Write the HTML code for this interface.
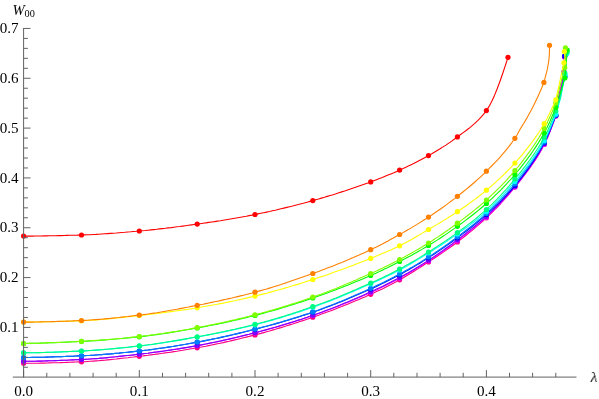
<!DOCTYPE html>
<html><head><meta charset="utf-8"><style>
html,body{margin:0;padding:0;background:#fff;}
svg{display:block;}
text{font-family:"Liberation Serif",serif;font-size:15.1px;fill:#000;}
</style></head><body>
<svg width="599" height="399" viewBox="0 0 599 399">
<rect width="599" height="399" fill="#fff"/>
<g stroke-linejoin="round" stroke-linecap="butt">
<polyline points="23.6,363.3 26.5,363.3 29.4,363.3 32.3,363.3 35.2,363.2 38.1,363.2 41.0,363.1 43.9,363.1 46.8,363.0 49.7,362.9 52.6,362.8 55.5,362.8 58.4,362.7 61.2,362.6 64.1,362.5 67.0,362.4 69.9,362.3 72.8,362.1 75.7,362.0 78.6,361.9 81.5,361.8 84.4,361.7 87.3,361.5 90.2,361.3 93.1,361.1 96.0,360.9 98.8,360.7 101.7,360.4 104.6,360.2 107.5,359.9 110.4,359.6 113.3,359.3 116.2,359.0 119.1,358.6 122.0,358.3 124.9,358.0 127.8,357.7 130.7,357.3 133.5,357.0 136.4,356.6 139.3,356.3 142.2,356.0 145.1,355.6 148.0,355.3 150.9,354.9 153.8,354.5 156.7,354.1 159.6,353.7 162.5,353.3 165.4,352.9 168.2,352.5 171.1,352.1 174.0,351.6 176.9,351.2 179.8,350.7 182.7,350.3 185.6,349.8 188.5,349.3 191.4,348.8 194.3,348.3 197.2,347.8 200.1,347.3 203.0,346.7 205.8,346.2 208.7,345.6 211.6,345.0 214.5,344.4 217.4,343.8 220.3,343.2 223.2,342.6 226.1,341.9 229.0,341.3 231.9,340.6 234.8,339.9 237.7,339.2 240.6,338.5 243.4,337.8 246.3,337.1 249.2,336.4 252.1,335.6 255.0,334.9 257.9,334.1 260.8,333.4 263.7,332.6 266.6,331.8 269.5,331.0 272.4,330.1 275.3,329.3 278.1,328.4 281.0,327.6 283.9,326.7 286.8,325.8 289.7,324.9 292.6,324.0 295.5,323.0 298.4,322.1 301.3,321.1 304.2,320.2 307.1,319.2 310.0,318.2 312.8,317.2 315.7,316.2 318.6,315.2 321.5,314.1 324.4,313.1 327.3,312.0 330.2,311.0 333.1,309.9 336.0,308.8 338.9,307.6 341.8,306.5 344.7,305.3 347.6,304.2 350.4,303.0 353.3,301.8 356.2,300.6 359.1,299.4 362.0,298.1 364.9,296.9 367.8,295.6 370.7,294.3 373.6,293.0 376.5,291.6 379.4,290.3 382.3,288.9 385.1,287.4 388.0,286.0 390.9,284.5 393.8,282.9 396.7,281.4 399.6,279.8 402.5,278.2 405.4,276.5 408.3,274.8 411.2,273.0 414.1,271.2 417.0,269.4 419.9,267.6 422.7,265.7 425.6,263.8 428.5,261.9 431.4,260.1 434.3,258.2 437.2,256.2 440.1,254.3 443.0,252.4 445.9,250.4 448.8,248.3 451.7,246.3 454.6,244.2 457.4,242.0 460.3,239.8 463.2,237.6 466.1,235.3 469.0,232.9 471.9,230.6 474.8,228.1 477.7,225.7 480.6,223.1 483.5,220.5 486.4,217.8 489.2,215.1 492.1,212.3 494.9,209.4 497.8,206.5 500.7,203.5 503.5,200.3 506.4,197.2 509.2,193.9 512.1,190.5 514.9,187.0 517.9,183.4 520.8,179.7 523.7,176.0 526.6,172.2 529.6,168.2 532.5,164.0 535.4,159.6 538.4,154.9 541.3,149.9 544.2,144.5 547.1,138.5 550.0,131.5 552.9,123.9 555.8,116.0 558.5,98.0 562.0,82.0 564.2,72.4 564.5,56.7" fill="none" stroke="#ff0080" stroke-width="1.1"/>
<g fill="#ff0080"><circle cx="23.6" cy="363.3" r="2.6"/><circle cx="81.5" cy="361.8" r="2.6"/><circle cx="139.3" cy="356.3" r="2.6"/><circle cx="197.2" cy="347.8" r="2.6"/><circle cx="255.0" cy="334.9" r="2.6"/><circle cx="312.8" cy="317.2" r="2.6"/><circle cx="370.7" cy="294.3" r="2.6"/><circle cx="399.6" cy="279.8" r="2.6"/><circle cx="428.5" cy="261.9" r="2.6"/><circle cx="457.4" cy="242.0" r="2.6"/><circle cx="486.4" cy="217.8" r="2.6"/><circle cx="514.9" cy="187.0" r="2.6"/><circle cx="544.2" cy="144.5" r="2.6"/><circle cx="555.8" cy="116.0" r="2.6"/><circle cx="564.2" cy="72.4" r="2.6"/><circle cx="564.5" cy="56.7" r="2.6"/></g>
<polyline points="23.6,361.3 26.5,361.3 29.4,361.3 32.3,361.2 35.2,361.2 38.1,361.1 41.0,361.1 43.9,361.0 46.8,360.9 49.7,360.8 52.6,360.7 55.5,360.6 58.4,360.5 61.2,360.4 64.1,360.3 67.0,360.2 69.9,360.0 72.8,359.9 75.7,359.8 78.6,359.6 81.5,359.5 84.4,359.4 87.3,359.2 90.2,359.0 93.1,358.8 96.0,358.6 98.8,358.4 101.7,358.1 104.6,357.9 107.5,357.6 110.4,357.3 113.3,357.0 116.2,356.7 119.1,356.4 122.0,356.1 124.9,355.8 127.8,355.5 130.7,355.2 133.5,354.9 136.4,354.5 139.3,354.2 142.2,353.9 145.1,353.5 148.0,353.2 150.9,352.8 153.8,352.4 156.7,352.0 159.6,351.6 162.5,351.2 165.4,350.8 168.2,350.4 171.1,350.0 174.0,349.5 176.9,349.1 179.8,348.6 182.7,348.1 185.6,347.6 188.5,347.2 191.4,346.7 194.3,346.2 197.2,345.6 200.1,345.1 203.0,344.6 205.8,344.0 208.7,343.5 211.6,342.9 214.5,342.3 217.4,341.7 220.3,341.1 223.2,340.4 226.1,339.8 229.0,339.1 231.9,338.5 234.8,337.8 237.7,337.1 240.6,336.4 243.4,335.7 246.3,335.0 249.2,334.3 252.1,333.5 255.0,332.8 257.9,332.1 260.8,331.3 263.7,330.5 266.6,329.7 269.5,328.9 272.4,328.1 275.3,327.3 278.1,326.5 281.0,325.6 283.9,324.8 286.8,323.9 289.7,323.0 292.6,322.1 295.5,321.2 298.4,320.3 301.3,319.4 304.2,318.4 307.1,317.5 310.0,316.5 312.8,315.5 315.7,314.5 318.6,313.5 321.5,312.5 324.4,311.4 327.3,310.3 330.2,309.3 333.1,308.2 336.0,307.0 338.9,305.9 341.8,304.8 344.7,303.6 347.6,302.4 350.4,301.2 353.3,300.0 356.2,298.8 359.1,297.6 362.0,296.3 364.9,295.1 367.8,293.8 370.7,292.5 373.6,291.2 376.5,289.9 379.4,288.5 382.3,287.1 385.1,285.7 388.0,284.2 390.9,282.8 393.8,281.3 396.7,279.7 399.6,278.2 402.5,276.6 405.4,275.0 408.3,273.4 411.2,271.7 414.1,270.0 417.0,268.2 419.9,266.5 422.7,264.7 425.6,262.8 428.5,261.0 431.4,259.1 434.3,257.2 437.2,255.3 440.1,253.3 443.0,251.3 445.9,249.2 448.8,247.1 451.7,245.0 454.6,242.9 457.4,240.8 460.3,238.6 463.2,236.4 466.1,234.2 469.0,231.9 471.9,229.6 474.8,227.3 477.7,224.9 480.6,222.4 483.5,219.9 486.4,217.3 489.2,214.6 492.1,211.9 494.9,209.1 497.8,206.2 500.7,203.2 503.5,200.2 506.4,197.0 509.2,193.8 512.1,190.4 514.9,187.0 517.9,183.4 520.8,179.8 523.7,176.0 526.6,172.2 529.6,168.2 532.5,164.0 535.4,159.6 538.4,154.9 541.3,149.9 544.2,144.5 547.1,138.5 550.0,131.5 552.9,123.9 555.8,116.0 558.5,98.0 562.0,82.0 564.2,72.4 564.5,56.7" fill="none" stroke="#ff00ff" stroke-width="1.1"/>
<g fill="#ff00ff"><circle cx="23.6" cy="361.3" r="2.6"/><circle cx="81.5" cy="359.5" r="2.6"/><circle cx="139.3" cy="354.2" r="2.6"/><circle cx="197.2" cy="345.6" r="2.6"/><circle cx="255.0" cy="332.8" r="2.6"/><circle cx="312.8" cy="315.5" r="2.6"/><circle cx="370.7" cy="292.5" r="2.6"/><circle cx="399.6" cy="278.2" r="2.6"/><circle cx="428.5" cy="261.0" r="2.6"/><circle cx="457.4" cy="240.8" r="2.6"/><circle cx="486.4" cy="217.3" r="2.6"/><circle cx="514.9" cy="187.0" r="2.6"/><circle cx="544.2" cy="144.5" r="2.6"/><circle cx="555.8" cy="116.0" r="2.6"/><circle cx="564.2" cy="72.4" r="2.6"/><circle cx="564.5" cy="56.7" r="2.6"/></g>
<polyline points="23.6,361.3 26.5,361.3 29.4,361.3 32.3,361.2 35.2,361.2 38.1,361.1 41.0,361.1 43.9,361.0 46.8,360.9 49.7,360.8 52.6,360.7 55.5,360.6 58.4,360.5 61.2,360.4 64.1,360.3 67.0,360.2 69.9,360.0 72.8,359.9 75.7,359.8 78.6,359.6 81.5,359.5 84.4,359.4 87.3,359.2 90.2,359.0 93.1,358.8 96.0,358.6 98.8,358.4 101.7,358.1 104.6,357.9 107.5,357.6 110.4,357.3 113.3,357.0 116.2,356.8 119.1,356.4 122.0,356.1 124.9,355.8 127.8,355.5 130.7,355.2 133.5,354.9 136.4,354.5 139.3,354.2 142.2,353.9 145.1,353.5 148.0,353.2 150.9,352.8 153.8,352.4 156.7,352.0 159.6,351.6 162.5,351.2 165.4,350.8 168.2,350.4 171.1,349.9 174.0,349.5 176.9,349.0 179.8,348.6 182.7,348.1 185.6,347.6 188.5,347.1 191.4,346.6 194.3,346.1 197.2,345.6 200.1,345.1 203.0,344.5 205.8,344.0 208.7,343.4 211.6,342.8 214.5,342.2 217.4,341.6 220.3,341.0 223.2,340.4 226.1,339.7 229.0,339.1 231.9,338.4 234.8,337.7 237.7,337.0 240.6,336.3 243.4,335.6 246.3,334.9 249.2,334.2 252.1,333.4 255.0,332.7 257.9,332.0 260.8,331.2 263.7,330.4 266.6,329.6 269.5,328.8 272.4,328.0 275.3,327.2 278.1,326.4 281.0,325.5 283.9,324.6 286.8,323.8 289.7,322.9 292.6,322.0 295.5,321.1 298.4,320.1 301.3,319.2 304.2,318.2 307.1,317.3 310.0,316.3 312.8,315.3 315.7,314.3 318.6,313.3 321.5,312.2 324.4,311.1 327.3,310.0 330.2,308.9 333.1,307.8 336.0,306.7 338.9,305.5 341.8,304.3 344.7,303.1 347.6,301.9 350.4,300.7 353.3,299.5 356.2,298.2 359.1,296.9 362.0,295.7 364.9,294.4 367.8,293.1 370.7,291.8 373.6,290.5 376.5,289.1 379.4,287.8 382.3,286.4 385.1,285.0 388.0,283.5 390.9,282.1 393.8,280.6 396.7,279.0 399.6,277.5 402.5,275.9 405.4,274.3 408.3,272.7 411.2,271.0 414.1,269.3 417.0,267.5 419.9,265.7 422.7,263.9 425.6,262.1 428.5,260.2 431.4,258.4 434.3,256.4 437.2,254.4 440.1,252.4 443.0,250.4 445.9,248.3 448.8,246.2 451.7,244.1 454.6,241.9 457.4,239.8 460.3,237.6 463.2,235.4 466.1,233.1 469.0,230.9 471.9,228.6 474.8,226.3 477.7,223.9 480.6,221.4 483.5,218.9 486.4,216.3 489.2,213.7 492.1,210.9 494.9,208.2 497.8,205.3 500.7,202.4 503.5,199.3 506.4,196.2 509.2,193.0 512.1,189.7 514.9,186.2 517.9,182.7 520.8,179.0 523.7,175.2 526.6,171.4 529.6,167.3 532.5,163.1 535.4,158.6 538.4,153.9 541.3,148.9 544.2,143.5 547.1,137.5 550.0,130.7 552.9,123.2 555.8,115.5 559.4,98.0 562.8,82.0 563.7,72.0 564.7,56.3" fill="none" stroke="#8000ff" stroke-width="1.1"/>
<g fill="#8000ff"><circle cx="23.6" cy="361.3" r="2.6"/><circle cx="81.5" cy="359.5" r="2.6"/><circle cx="139.3" cy="354.2" r="2.6"/><circle cx="197.2" cy="345.6" r="2.6"/><circle cx="255.0" cy="332.7" r="2.6"/><circle cx="312.8" cy="315.3" r="2.6"/><circle cx="370.7" cy="291.8" r="2.6"/><circle cx="399.6" cy="277.5" r="2.6"/><circle cx="428.5" cy="260.2" r="2.6"/><circle cx="457.4" cy="239.8" r="2.6"/><circle cx="486.4" cy="216.3" r="2.6"/><circle cx="514.9" cy="186.2" r="2.6"/><circle cx="544.2" cy="143.5" r="2.6"/><circle cx="555.8" cy="115.5" r="2.6"/><circle cx="563.7" cy="72.0" r="2.6"/><circle cx="564.7" cy="56.3" r="2.6"/></g>
<polyline points="23.6,357.5 26.5,357.5 29.4,357.5 32.3,357.4 35.2,357.4 38.1,357.3 41.0,357.3 43.9,357.2 46.8,357.1 49.7,357.0 52.6,356.9 55.5,356.8 58.4,356.7 61.2,356.6 64.1,356.5 67.0,356.4 69.9,356.3 72.8,356.2 75.7,356.0 78.6,355.9 81.5,355.8 84.4,355.7 87.3,355.5 90.2,355.4 93.1,355.2 96.0,355.0 98.8,354.8 101.7,354.6 104.6,354.3 107.5,354.1 110.4,353.9 113.3,353.6 116.2,353.3 119.1,353.1 122.0,352.8 124.9,352.5 127.8,352.2 130.7,351.9 133.5,351.6 136.4,351.3 139.3,351.0 142.2,350.7 145.1,350.3 148.0,350.0 150.9,349.6 153.8,349.2 156.7,348.8 159.6,348.4 162.5,348.0 165.4,347.6 168.2,347.1 171.1,346.7 174.0,346.2 176.9,345.7 179.8,345.2 182.7,344.8 185.6,344.3 188.5,343.7 191.4,343.2 194.3,342.7 197.2,342.2 200.1,341.7 203.0,341.1 205.8,340.6 208.7,340.0 211.6,339.4 214.5,338.8 217.4,338.2 220.3,337.6 223.2,336.9 226.1,336.3 229.0,335.6 231.9,335.0 234.8,334.3 237.7,333.6 240.6,332.9 243.4,332.2 246.3,331.5 249.2,330.8 252.1,330.0 255.0,329.3 257.9,328.6 260.8,327.8 263.7,327.0 266.6,326.3 269.5,325.5 272.4,324.7 275.3,323.9 278.1,323.1 281.0,322.2 283.9,321.4 286.8,320.5 289.7,319.7 292.6,318.8 295.5,317.9 298.4,317.0 301.3,316.1 304.2,315.1 307.1,314.2 310.0,313.2 312.8,312.2 315.7,311.3 318.6,310.2 321.5,309.2 324.4,308.1 327.3,307.1 330.2,306.0 333.1,304.8 336.0,303.7 338.9,302.6 341.8,301.4 344.7,300.2 347.6,299.0 350.4,297.8 353.3,296.6 356.2,295.3 359.1,294.1 362.0,292.8 364.9,291.6 367.8,290.3 370.7,289.0 373.6,287.7 376.5,286.4 379.4,285.0 382.3,283.6 385.1,282.2 388.0,280.8 390.9,279.3 393.8,277.8 396.7,276.3 399.6,274.8 402.5,273.2 405.4,271.6 408.3,270.0 411.2,268.3 414.1,266.6 417.0,264.9 419.9,263.2 422.7,261.4 425.6,259.6 428.5,257.8 431.4,255.9 434.3,254.0 437.2,252.1 440.1,250.1 443.0,248.1 445.9,246.1 448.8,244.1 451.7,242.0 454.6,239.9 457.4,237.8 460.3,235.6 463.2,233.4 466.1,231.2 469.0,229.0 471.9,226.7 474.8,224.4 477.7,222.0 480.6,219.6 483.5,217.1 486.4,214.5 489.2,211.9 492.1,209.3 494.9,206.6 497.8,203.9 500.7,201.1 503.5,198.2 506.4,195.2 509.2,192.1 512.1,188.8 514.9,185.5 517.9,182.0 520.8,178.4 523.7,174.6 526.6,170.8 529.6,166.7 532.5,162.5 535.4,158.0 538.4,153.3 541.3,148.3 544.2,143.0 547.1,137.1 550.0,130.4 552.9,123.1 555.8,115.5 559.6,98.0 564.8,76.5 564.7,56.1" fill="none" stroke="#0000ff" stroke-width="1.1"/>
<g fill="#0000ff"><circle cx="23.6" cy="357.5" r="2.6"/><circle cx="81.5" cy="355.8" r="2.6"/><circle cx="139.3" cy="351.0" r="2.6"/><circle cx="197.2" cy="342.2" r="2.6"/><circle cx="255.0" cy="329.3" r="2.6"/><circle cx="312.8" cy="312.2" r="2.6"/><circle cx="370.7" cy="289.0" r="2.6"/><circle cx="399.6" cy="274.8" r="2.6"/><circle cx="428.5" cy="257.8" r="2.6"/><circle cx="457.4" cy="237.8" r="2.6"/><circle cx="486.4" cy="214.5" r="2.6"/><circle cx="514.9" cy="185.5" r="2.6"/><circle cx="544.2" cy="143.0" r="2.6"/><circle cx="555.8" cy="115.5" r="2.6"/><circle cx="564.8" cy="76.5" r="2.6"/><circle cx="564.7" cy="56.1" r="2.6"/></g>
<polyline points="23.6,357.5 26.5,357.5 29.4,357.5 32.3,357.4 35.2,357.4 38.1,357.3 41.0,357.3 43.9,357.2 46.8,357.1 49.7,357.0 52.6,356.9 55.5,356.8 58.4,356.7 61.2,356.6 64.1,356.5 67.0,356.4 69.9,356.3 72.8,356.2 75.7,356.0 78.6,355.9 81.5,355.8 84.4,355.7 87.3,355.5 90.2,355.4 93.1,355.2 96.0,355.0 98.8,354.8 101.7,354.6 104.6,354.3 107.5,354.1 110.4,353.9 113.3,353.6 116.2,353.3 119.1,353.1 122.0,352.8 124.9,352.5 127.8,352.2 130.7,351.9 133.5,351.6 136.4,351.3 139.3,351.0 142.2,350.7 145.1,350.3 148.0,350.0 150.9,349.6 153.8,349.2 156.7,348.8 159.6,348.4 162.5,348.0 165.4,347.5 168.2,347.1 171.1,346.6 174.0,346.2 176.9,345.7 179.8,345.2 182.7,344.7 185.6,344.2 188.5,343.7 191.4,343.1 194.3,342.6 197.2,342.1 200.1,341.6 203.0,341.0 205.8,340.4 208.7,339.9 211.6,339.3 214.5,338.7 217.4,338.1 220.3,337.4 223.2,336.8 226.1,336.1 229.0,335.5 231.9,334.8 234.8,334.1 237.7,333.4 240.6,332.7 243.4,332.0 246.3,331.3 249.2,330.6 252.1,329.8 255.0,329.1 257.9,328.4 260.8,327.6 263.7,326.8 266.6,326.1 269.5,325.3 272.4,324.5 275.3,323.6 278.1,322.8 281.0,322.0 283.9,321.1 286.8,320.3 289.7,319.4 292.6,318.5 295.5,317.6 298.4,316.7 301.3,315.8 304.2,314.8 307.1,313.9 310.0,312.9 312.8,311.9 315.7,310.9 318.6,309.9 321.5,308.8 324.4,307.7 327.3,306.6 330.2,305.5 333.1,304.4 336.0,303.2 338.9,302.1 341.8,300.9 344.7,299.7 347.6,298.5 350.4,297.2 353.3,296.0 356.2,294.7 359.1,293.5 362.0,292.2 364.9,290.9 367.8,289.6 370.7,288.3 373.6,287.0 376.5,285.6 379.4,284.3 382.3,282.9 385.1,281.5 388.0,280.0 390.9,278.5 393.8,277.1 396.7,275.5 399.6,274.0 402.5,272.4 405.4,270.8 408.3,269.2 411.2,267.6 414.1,265.9 417.0,264.2 419.9,262.4 422.7,260.6 425.6,258.8 428.5,257.0 431.4,255.1 434.3,253.2 437.2,251.3 440.1,249.3 443.0,247.3 445.9,245.2 448.8,243.1 451.7,241.0 454.6,238.9 457.4,236.8 460.3,234.6 463.2,232.4 466.1,230.2 469.0,228.0 471.9,225.7 474.8,223.4 477.7,221.0 480.6,218.6 483.5,216.1 486.4,213.5 489.2,210.9 492.1,208.2 494.9,205.4 497.8,202.6 500.7,199.7 503.5,196.7 506.4,193.6 509.2,190.4 512.1,187.1 514.9,183.8 517.9,180.2 520.8,176.6 523.7,172.9 526.6,169.1 529.6,165.2 532.5,161.0 535.4,156.7 538.4,152.1 541.3,147.2 544.2,142.0 547.1,136.2 550.0,129.6 552.9,122.4 555.8,115.0 559.6,98.0 564.8,76.5 565.6,64.0" fill="none" stroke="#0080ff" stroke-width="1.1"/>
<g fill="#0080ff"><circle cx="23.6" cy="357.5" r="2.6"/><circle cx="81.5" cy="355.8" r="2.6"/><circle cx="139.3" cy="351.0" r="2.6"/><circle cx="197.2" cy="342.1" r="2.6"/><circle cx="255.0" cy="329.1" r="2.6"/><circle cx="312.8" cy="311.9" r="2.6"/><circle cx="370.7" cy="288.3" r="2.6"/><circle cx="399.6" cy="274.0" r="2.6"/><circle cx="428.5" cy="257.0" r="2.6"/><circle cx="457.4" cy="236.8" r="2.6"/><circle cx="486.4" cy="213.5" r="2.6"/><circle cx="514.9" cy="183.8" r="2.6"/><circle cx="544.2" cy="142.0" r="2.6"/><circle cx="555.8" cy="115.0" r="2.6"/><circle cx="564.8" cy="76.5" r="2.6"/></g>
<polyline points="23.6,352.8 26.5,352.8 29.4,352.8 32.3,352.7 35.2,352.7 38.1,352.6 41.0,352.5 43.9,352.5 46.8,352.4 49.7,352.3 52.6,352.2 55.5,352.1 58.4,352.0 61.2,351.9 64.1,351.8 67.0,351.6 69.9,351.5 72.8,351.4 75.7,351.3 78.6,351.1 81.5,351.0 84.4,350.9 87.3,350.7 90.2,350.5 93.1,350.3 96.0,350.1 98.8,349.9 101.7,349.7 104.6,349.5 107.5,349.2 110.4,349.0 113.3,348.7 116.2,348.4 119.1,348.1 122.0,347.9 124.9,347.6 127.8,347.3 130.7,346.9 133.5,346.6 136.4,346.3 139.3,346.0 142.2,345.7 145.1,345.3 148.0,345.0 150.9,344.6 153.8,344.2 156.7,343.8 159.6,343.3 162.5,342.9 165.4,342.5 168.2,342.0 171.1,341.5 174.0,341.0 176.9,340.6 179.8,340.1 182.7,339.6 185.6,339.1 188.5,338.5 191.4,338.0 194.3,337.5 197.2,337.0 200.1,336.5 203.0,335.9 205.8,335.4 208.7,334.9 211.6,334.3 214.5,333.7 217.4,333.2 220.3,332.6 223.2,332.0 226.1,331.4 229.0,330.8 231.9,330.1 234.8,329.5 237.7,328.9 240.6,328.2 243.4,327.5 246.3,326.9 249.2,326.2 252.1,325.5 255.0,324.8 257.9,324.0 260.8,323.3 263.7,322.5 266.6,321.7 269.5,320.9 272.4,320.1 275.3,319.3 278.1,318.4 281.0,317.6 283.9,316.7 286.8,315.8 289.7,314.9 292.6,314.0 295.5,313.1 298.4,312.1 301.3,311.2 304.2,310.2 307.1,309.2 310.0,308.2 312.8,307.2 315.7,306.2 318.6,305.2 321.5,304.1 324.4,303.1 327.3,302.0 330.2,300.9 333.1,299.7 336.0,298.6 338.9,297.4 341.8,296.2 344.7,295.0 347.6,293.8 350.4,292.6 353.3,291.4 356.2,290.1 359.1,288.9 362.0,287.6 364.9,286.3 367.8,285.1 370.7,283.8 373.6,282.5 376.5,281.2 379.4,279.9 382.3,278.6 385.1,277.2 388.0,275.8 390.9,274.4 393.8,273.0 396.7,271.5 399.6,270.0 402.5,268.5 405.4,266.9 408.3,265.2 411.2,263.5 414.1,261.8 417.0,260.1 419.9,258.4 422.7,256.6 425.6,254.8 428.5,253.0 431.4,251.2 434.3,249.4 437.2,247.5 440.1,245.7 443.0,243.8 445.9,241.9 448.8,239.9 451.7,237.9 454.6,235.9 457.4,233.9 460.3,231.8 463.2,229.8 466.1,227.7 469.0,225.6 471.9,223.4 474.8,221.2 477.7,218.9 480.6,216.6 483.5,214.1 486.4,211.6 489.2,209.0 492.1,206.3 494.9,203.5 497.8,200.6 500.7,197.7 503.5,194.6 506.4,191.4 509.2,188.2 512.1,184.9 514.9,181.5 517.9,178.0 520.8,174.4 523.7,170.8 526.6,167.1 529.6,163.2 532.5,159.1 535.4,154.9 538.4,150.4 541.3,145.6 544.2,140.5 547.1,134.8 550.0,128.3 552.9,121.3 555.8,114.0 560.6,98.0 562.6,88.0 563.8,82.0 565.0,74.5 566.9,53.4" fill="none" stroke="#00ffff" stroke-width="1.1"/>
<g fill="#00ffff"><circle cx="23.6" cy="352.8" r="2.6"/><circle cx="81.5" cy="351.0" r="2.6"/><circle cx="139.3" cy="346.0" r="2.6"/><circle cx="197.2" cy="337.0" r="2.6"/><circle cx="255.0" cy="324.8" r="2.6"/><circle cx="312.8" cy="307.2" r="2.6"/><circle cx="370.7" cy="283.8" r="2.6"/><circle cx="399.6" cy="270.0" r="2.6"/><circle cx="428.5" cy="253.0" r="2.6"/><circle cx="457.4" cy="233.9" r="2.6"/><circle cx="486.4" cy="211.6" r="2.6"/><circle cx="514.9" cy="181.5" r="2.6"/><circle cx="544.2" cy="140.5" r="2.6"/><circle cx="555.8" cy="114.0" r="2.6"/><circle cx="565.0" cy="74.5" r="2.6"/><circle cx="566.9" cy="53.4" r="2.6"/></g>
<polyline points="23.6,352.8 26.5,352.8 29.4,352.8 32.3,352.7 35.2,352.7 38.1,352.6 41.0,352.6 43.9,352.5 46.8,352.4 49.7,352.3 52.6,352.2 55.5,352.1 58.4,352.0 61.2,351.9 64.1,351.8 67.0,351.6 69.9,351.5 72.8,351.4 75.7,351.3 78.6,351.1 81.5,351.0 84.4,350.9 87.3,350.7 90.2,350.5 93.1,350.3 96.0,350.1 98.8,349.9 101.7,349.7 104.6,349.4 107.5,349.2 110.4,348.9 113.3,348.7 116.2,348.4 119.1,348.1 122.0,347.8 124.9,347.5 127.8,347.2 130.7,346.9 133.5,346.5 136.4,346.2 139.3,345.9 142.2,345.6 145.1,345.2 148.0,344.8 150.9,344.5 153.8,344.1 156.7,343.6 159.6,343.2 162.5,342.8 165.4,342.3 168.2,341.8 171.1,341.4 174.0,340.9 176.9,340.4 179.8,339.9 182.7,339.4 185.6,338.9 188.5,338.4 191.4,337.8 194.3,337.3 197.2,336.8 200.1,336.3 203.0,335.7 205.8,335.2 208.7,334.6 211.6,334.1 214.5,333.5 217.4,332.9 220.3,332.3 223.2,331.7 226.1,331.1 229.0,330.5 231.9,329.8 234.8,329.2 237.7,328.5 240.6,327.9 243.4,327.2 246.3,326.5 249.2,325.8 252.1,325.1 255.0,324.4 257.9,323.6 260.8,322.8 263.7,322.1 266.6,321.3 269.5,320.5 272.4,319.6 275.3,318.8 278.1,317.9 281.0,317.1 283.9,316.2 286.8,315.3 289.7,314.4 292.6,313.4 295.5,312.5 298.4,311.5 301.3,310.6 304.2,309.6 307.1,308.6 310.0,307.6 312.8,306.6 315.7,305.6 318.6,304.5 321.5,303.5 324.4,302.4 327.3,301.3 330.2,300.2 333.1,299.0 336.0,297.9 338.9,296.7 341.8,295.5 344.7,294.3 347.6,293.1 350.4,291.9 353.3,290.6 356.2,289.4 359.1,288.1 362.0,286.8 364.9,285.6 367.8,284.3 370.7,283.0 373.6,281.7 376.5,280.4 379.4,279.0 382.3,277.7 385.1,276.3 388.0,274.9 390.9,273.5 393.8,272.0 396.7,270.5 399.6,269.0 402.5,267.4 405.4,265.8 408.3,264.2 411.2,262.5 414.1,260.9 417.0,259.1 419.9,257.4 422.7,255.6 425.6,253.8 428.5,252.0 431.4,250.2 434.3,248.3 437.2,246.4 440.1,244.5 443.0,242.6 445.9,240.7 448.8,238.7 451.7,236.6 454.6,234.6 457.4,232.5 460.3,230.4 463.2,228.3 466.1,226.1 469.0,223.9 471.9,221.7 474.8,219.4 477.7,217.0 480.6,214.6 483.5,212.1 486.4,209.5 489.2,206.8 492.1,204.1 494.9,201.3 497.8,198.4 500.7,195.3 503.5,192.2 506.4,189.1 509.2,185.8 512.1,182.4 514.9,179.0 517.9,175.4 520.8,171.8 523.7,168.1 526.6,164.4 529.6,160.4 532.5,156.3 535.4,152.0 538.4,147.5 541.3,142.6 544.2,137.5 547.1,131.8 550.0,125.3 552.9,118.3 555.8,111.0 560.2,98.0 563.4,82.0 564.8,73.0 567.0,52.0" fill="none" stroke="#00ff80" stroke-width="1.1"/>
<g fill="#00ff80"><circle cx="23.6" cy="352.8" r="2.6"/><circle cx="81.5" cy="351.0" r="2.6"/><circle cx="139.3" cy="345.9" r="2.6"/><circle cx="197.2" cy="336.8" r="2.6"/><circle cx="255.0" cy="324.4" r="2.6"/><circle cx="312.8" cy="306.6" r="2.6"/><circle cx="370.7" cy="283.0" r="2.6"/><circle cx="399.6" cy="269.0" r="2.6"/><circle cx="428.5" cy="252.0" r="2.6"/><circle cx="457.4" cy="232.5" r="2.6"/><circle cx="486.4" cy="209.5" r="2.6"/><circle cx="514.9" cy="179.0" r="2.6"/><circle cx="544.2" cy="137.5" r="2.6"/><circle cx="555.8" cy="111.0" r="2.6"/><circle cx="564.8" cy="73.0" r="2.6"/><circle cx="567.0" cy="52.0" r="2.6"/></g>
<polyline points="23.6,343.5 26.5,343.5 29.4,343.4 32.3,343.3 35.2,343.3 38.1,343.2 41.0,343.1 43.9,343.0 46.8,342.9 49.7,342.8 52.6,342.7 55.5,342.6 58.4,342.5 61.2,342.4 64.1,342.2 67.0,342.1 69.9,342.0 72.8,341.8 75.7,341.7 78.6,341.5 81.5,341.4 84.4,341.3 87.3,341.1 90.2,340.9 93.1,340.7 96.0,340.6 98.8,340.4 101.7,340.1 104.6,339.9 107.5,339.7 110.4,339.5 113.3,339.2 116.2,339.0 119.1,338.7 122.0,338.5 124.9,338.2 127.8,337.9 130.7,337.6 133.5,337.3 136.4,337.1 139.3,336.8 142.2,336.4 145.1,336.1 148.0,335.8 150.9,335.4 153.8,335.0 156.7,334.6 159.6,334.2 162.5,333.8 165.4,333.4 168.2,332.9 171.1,332.5 174.0,332.0 176.9,331.5 179.8,331.0 182.7,330.5 185.6,330.0 188.5,329.5 191.4,329.0 194.3,328.5 197.2,328.0 200.1,327.5 203.0,326.9 205.8,326.4 208.7,325.8 211.6,325.3 214.5,324.7 217.4,324.1 220.3,323.5 223.2,322.9 226.1,322.2 229.0,321.6 231.9,320.9 234.8,320.3 237.7,319.6 240.6,318.9 243.4,318.3 246.3,317.6 249.2,316.8 252.1,316.1 255.0,315.4 257.9,314.7 260.8,313.9 263.7,313.1 266.6,312.3 269.5,311.5 272.4,310.7 275.3,309.9 278.1,309.1 281.0,308.2 283.9,307.3 286.8,306.4 289.7,305.5 292.6,304.6 295.5,303.7 298.4,302.8 301.3,301.9 304.2,300.9 307.1,299.9 310.0,299.0 312.8,298.0 315.7,297.0 318.6,296.0 321.5,295.0 324.4,294.0 327.3,292.9 330.2,291.8 333.1,290.8 336.0,289.7 338.9,288.6 341.8,287.5 344.7,286.3 347.6,285.2 350.4,284.0 353.3,282.8 356.2,281.6 359.1,280.4 362.0,279.2 364.9,278.0 367.8,276.8 370.7,275.5 373.6,274.2 376.5,272.9 379.4,271.6 382.3,270.2 385.1,268.8 388.0,267.4 390.9,265.9 393.8,264.5 396.7,263.0 399.6,261.5 402.5,260.0 405.4,258.5 408.3,256.9 411.2,255.4 414.1,253.8 417.0,252.2 419.9,250.6 422.7,248.9 425.6,247.2 428.5,245.5 431.4,243.7 434.3,241.9 437.2,240.1 440.1,238.2 443.0,236.3 445.9,234.4 448.8,232.4 451.7,230.4 454.6,228.4 457.4,226.3 460.3,224.2 463.2,222.1 466.1,219.9 469.0,217.7 471.9,215.5 474.8,213.2 477.7,210.9 480.6,208.5 483.5,206.0 486.4,203.5 489.2,200.9 492.1,198.3 494.9,195.6 497.8,192.9 500.7,190.1 503.5,187.1 506.4,184.1 509.2,181.0 512.1,177.8 514.9,174.5 517.9,171.0 520.8,167.4 523.7,163.7 526.6,159.9 529.6,155.9 532.5,151.8 535.4,147.4 538.4,142.9 541.3,138.1 544.2,133.0 547.1,127.4 550.0,121.2 552.9,114.5 555.8,107.5 564.9,78.0 567.2,50.0" fill="none" stroke="#00ff00" stroke-width="1.1"/>
<g fill="#00ff00"><circle cx="23.6" cy="343.5" r="2.6"/><circle cx="81.5" cy="341.4" r="2.6"/><circle cx="139.3" cy="336.8" r="2.6"/><circle cx="197.2" cy="328.0" r="2.6"/><circle cx="255.0" cy="315.4" r="2.6"/><circle cx="312.8" cy="298.0" r="2.6"/><circle cx="370.7" cy="275.5" r="2.6"/><circle cx="399.6" cy="261.5" r="2.6"/><circle cx="428.5" cy="245.5" r="2.6"/><circle cx="457.4" cy="226.3" r="2.6"/><circle cx="486.4" cy="203.5" r="2.6"/><circle cx="514.9" cy="174.5" r="2.6"/><circle cx="544.2" cy="133.0" r="2.6"/><circle cx="555.8" cy="107.5" r="2.6"/><circle cx="564.9" cy="78.0" r="2.6"/><circle cx="567.2" cy="50.0" r="2.6"/></g>
<polyline points="23.6,343.5 26.5,343.5 29.4,343.4 32.3,343.3 35.2,343.3 38.1,343.2 41.0,343.1 43.9,343.0 46.8,342.9 49.7,342.8 52.6,342.7 55.5,342.5 58.4,342.4 61.2,342.3 64.1,342.2 67.0,342.0 69.9,341.9 72.8,341.7 75.7,341.6 78.6,341.4 81.5,341.3 84.4,341.1 87.3,341.0 90.2,340.8 93.1,340.6 96.0,340.4 98.8,340.2 101.7,340.0 104.6,339.8 107.5,339.5 110.4,339.3 113.3,339.1 116.2,338.8 119.1,338.5 122.0,338.3 124.9,338.0 127.8,337.7 130.7,337.4 133.5,337.1 136.4,336.8 139.3,336.5 142.2,336.2 145.1,335.8 148.0,335.5 150.9,335.1 153.8,334.7 156.7,334.3 159.6,333.9 162.5,333.5 165.4,333.0 168.2,332.6 171.1,332.1 174.0,331.6 176.9,331.2 179.8,330.7 182.7,330.2 185.6,329.7 188.5,329.2 191.4,328.6 194.3,328.1 197.2,327.6 200.1,327.1 203.0,326.5 205.8,326.0 208.7,325.4 211.6,324.8 214.5,324.2 217.4,323.6 220.3,323.0 223.2,322.4 226.1,321.7 229.0,321.1 231.9,320.4 234.8,319.8 237.7,319.1 240.6,318.4 243.4,317.7 246.3,317.0 249.2,316.3 252.1,315.5 255.0,314.8 257.9,314.0 260.8,313.3 263.7,312.5 266.6,311.7 269.5,310.9 272.4,310.1 275.3,309.2 278.1,308.4 281.0,307.5 283.9,306.6 286.8,305.7 289.7,304.8 292.6,303.9 295.5,303.0 298.4,302.0 301.3,301.1 304.2,300.1 307.1,299.1 310.0,298.1 312.8,297.1 315.7,296.1 318.6,295.0 321.5,294.0 324.4,292.9 327.3,291.8 330.2,290.7 333.1,289.5 336.0,288.4 338.9,287.2 341.8,286.0 344.7,284.8 347.6,283.6 350.4,282.4 353.3,281.1 356.2,279.9 359.1,278.6 362.0,277.3 364.9,276.1 367.8,274.8 370.7,273.5 373.6,272.2 376.5,270.9 379.4,269.5 382.3,268.2 385.1,266.8 388.0,265.4 390.9,263.9 393.8,262.5 396.7,261.0 399.6,259.5 402.5,258.0 405.4,256.4 408.3,254.8 411.2,253.2 414.1,251.6 417.0,249.9 419.9,248.3 422.7,246.5 425.6,244.8 428.5,243.0 431.4,241.2 434.3,239.3 437.2,237.4 440.1,235.5 443.0,233.5 445.9,231.5 448.8,229.5 451.7,227.4 454.6,225.3 457.4,223.2 460.3,221.1 463.2,218.9 466.1,216.7 469.0,214.5 471.9,212.2 474.8,209.9 477.7,207.5 480.6,205.1 483.5,202.6 486.4,200.0 489.2,197.4 492.1,194.7 494.9,192.0 497.8,189.2 500.7,186.3 503.5,183.3 506.4,180.3 509.2,177.1 512.1,173.9 514.9,170.5 517.9,167.0 520.8,163.3 523.7,159.6 526.6,155.7 529.6,151.7 532.5,147.5 535.4,143.1 538.4,138.5 541.3,133.6 544.2,128.5 547.1,122.9 550.0,116.7 552.9,110.0 555.8,103.0 564.7,67.5 565.4,47.8" fill="none" stroke="#80ff00" stroke-width="1.1"/>
<g fill="#80ff00"><circle cx="23.6" cy="343.5" r="2.6"/><circle cx="81.5" cy="341.3" r="2.6"/><circle cx="139.3" cy="336.5" r="2.6"/><circle cx="197.2" cy="327.6" r="2.6"/><circle cx="255.0" cy="314.8" r="2.6"/><circle cx="312.8" cy="297.1" r="2.6"/><circle cx="370.7" cy="273.5" r="2.6"/><circle cx="399.6" cy="259.5" r="2.6"/><circle cx="428.5" cy="243.0" r="2.6"/><circle cx="457.4" cy="223.2" r="2.6"/><circle cx="486.4" cy="200.0" r="2.6"/><circle cx="514.9" cy="170.5" r="2.6"/><circle cx="544.2" cy="128.5" r="2.6"/><circle cx="555.8" cy="103.0" r="2.6"/><circle cx="564.7" cy="67.5" r="2.6"/><circle cx="565.4" cy="47.8" r="2.6"/></g>
<polyline points="23.6,322.1 26.5,322.1 29.4,322.1 32.3,322.1 35.2,322.0 38.1,322.0 41.0,321.9 43.9,321.9 46.8,321.8 49.7,321.8 52.6,321.7 55.5,321.6 58.4,321.5 61.2,321.4 64.1,321.4 67.0,321.3 69.9,321.2 72.8,321.1 75.7,321.0 78.6,320.9 81.5,320.8 84.4,320.6 87.3,320.5 90.2,320.3 93.1,320.1 96.0,319.9 98.8,319.7 101.7,319.5 104.6,319.2 107.5,318.9 110.4,318.6 113.3,318.3 116.2,318.0 119.1,317.7 122.0,317.4 124.9,317.1 127.8,316.8 130.7,316.5 133.5,316.1 136.4,315.8 139.3,315.5 142.2,315.2 145.1,314.9 148.0,314.5 150.9,314.2 153.8,313.9 156.7,313.5 159.6,313.1 162.5,312.8 165.4,312.4 168.2,312.0 171.1,311.6 174.0,311.3 176.9,310.8 179.8,310.4 182.7,310.0 185.6,309.6 188.5,309.2 191.4,308.7 194.3,308.3 197.2,307.8 200.1,307.3 203.0,306.8 205.8,306.3 208.7,305.8 211.6,305.3 214.5,304.8 217.4,304.2 220.3,303.6 223.2,303.1 226.1,302.5 229.0,301.9 231.9,301.3 234.8,300.7 237.7,300.0 240.6,299.4 243.4,298.7 246.3,298.1 249.2,297.4 252.1,296.7 255.0,296.1 257.9,295.4 260.8,294.6 263.7,293.9 266.6,293.2 269.5,292.4 272.4,291.6 275.3,290.8 278.1,290.0 281.0,289.2 283.9,288.4 286.8,287.5 289.7,286.7 292.6,285.8 295.5,284.9 298.4,284.1 301.3,283.2 304.2,282.3 307.1,281.3 310.0,280.4 312.8,279.5 315.7,278.6 318.6,277.6 321.5,276.6 324.4,275.7 327.3,274.7 330.2,273.7 333.1,272.6 336.0,271.6 338.9,270.6 341.8,269.5 344.7,268.4 347.6,267.3 350.4,266.3 353.3,265.2 356.2,264.0 359.1,262.9 362.0,261.8 364.9,260.7 367.8,259.5 370.7,258.4 373.6,257.2 376.5,256.0 379.4,254.8 382.3,253.6 385.1,252.4 388.0,251.1 390.9,249.9 393.8,248.5 396.7,247.2 399.6,245.8 402.5,244.3 405.4,242.8 408.3,241.3 411.2,239.7 414.1,238.0 417.0,236.3 419.9,234.6 422.7,232.9 425.6,231.2 428.5,229.5 431.4,227.8 434.3,226.1 437.2,224.4 440.1,222.7 443.0,220.9 445.9,219.1 448.8,217.3 451.7,215.5 454.6,213.6 457.4,211.7 460.3,209.7 463.2,207.7 466.1,205.7 469.0,203.6 471.9,201.5 474.8,199.4 477.7,197.2 480.6,194.9 483.5,192.6 486.4,190.2 489.2,187.8 492.1,185.3 494.9,182.8 497.8,180.2 500.7,177.6 503.5,174.9 506.4,172.0 509.2,169.1 512.1,166.1 514.9,163.0 517.9,159.7 520.8,156.3 523.7,152.8 526.6,149.2 529.6,145.4 532.5,141.5 535.4,137.4 538.4,133.0 541.3,128.5 544.2,123.7 547.1,118.5 550.0,112.6 552.9,106.3 555.8,99.8 563.9,62.8 565.0,57.5 564.3,51.5" fill="none" stroke="#ffff00" stroke-width="1.1"/>
<g fill="#ffff00"><circle cx="23.6" cy="322.1" r="2.6"/><circle cx="81.5" cy="320.8" r="2.6"/><circle cx="139.3" cy="315.5" r="2.6"/><circle cx="197.2" cy="307.8" r="2.6"/><circle cx="255.0" cy="296.1" r="2.6"/><circle cx="312.8" cy="279.5" r="2.6"/><circle cx="370.7" cy="258.4" r="2.6"/><circle cx="399.6" cy="245.8" r="2.6"/><circle cx="428.5" cy="229.5" r="2.6"/><circle cx="457.4" cy="211.7" r="2.6"/><circle cx="486.4" cy="190.2" r="2.6"/><circle cx="514.9" cy="163.0" r="2.6"/><circle cx="544.2" cy="123.7" r="2.6"/><circle cx="555.8" cy="99.8" r="2.6"/><circle cx="563.9" cy="62.8" r="2.6"/><circle cx="564.3" cy="51.5" r="2.6"/></g>
<polyline points="23.6,322.1 26.5,322.1 29.4,322.1 32.3,322.1 35.2,322.0 38.1,322.0 41.0,321.9 43.9,321.8 46.8,321.8 49.7,321.7 52.6,321.6 55.5,321.5 58.4,321.4 61.2,321.3 64.1,321.2 67.0,321.1 69.9,321.0 72.8,320.9 75.7,320.7 78.6,320.6 81.5,320.5 84.4,320.4 87.3,320.2 90.2,320.0 93.1,319.8 96.0,319.6 98.8,319.4 101.7,319.2 104.6,318.9 107.5,318.6 110.4,318.4 113.3,318.1 116.2,317.8 119.1,317.5 122.0,317.1 124.9,316.8 127.8,316.5 130.7,316.1 133.5,315.8 136.4,315.4 139.3,315.1 142.2,314.7 145.1,314.4 148.0,314.0 150.9,313.5 153.8,313.1 156.7,312.7 159.6,312.2 162.5,311.7 165.4,311.2 168.2,310.7 171.1,310.2 174.0,309.7 176.9,309.2 179.8,308.6 182.7,308.1 185.6,307.5 188.5,307.0 191.4,306.4 194.3,305.9 197.2,305.3 200.1,304.7 203.0,304.2 205.8,303.6 208.7,303.0 211.6,302.4 214.5,301.8 217.4,301.2 220.3,300.6 223.2,299.9 226.1,299.3 229.0,298.6 231.9,298.0 234.8,297.3 237.7,296.6 240.6,295.9 243.4,295.2 246.3,294.5 249.2,293.7 252.1,293.0 255.0,292.2 257.9,291.4 260.8,290.6 263.7,289.8 266.6,289.0 269.5,288.1 272.4,287.2 275.3,286.3 278.1,285.4 281.0,284.5 283.9,283.5 286.8,282.6 289.7,281.6 292.6,280.6 295.5,279.6 298.4,278.6 301.3,277.6 304.2,276.6 307.1,275.6 310.0,274.5 312.8,273.5 315.7,272.4 318.6,271.4 321.5,270.3 324.4,269.2 327.3,268.1 330.2,267.0 333.1,265.9 336.0,264.7 338.9,263.5 341.8,262.4 344.7,261.2 347.6,260.0 350.4,258.7 353.3,257.5 356.2,256.2 359.1,255.0 362.0,253.7 364.9,252.4 367.8,251.0 370.7,249.7 373.6,248.3 376.5,246.9 379.4,245.4 382.3,244.0 385.1,242.4 388.0,240.9 390.9,239.3 393.8,237.7 396.7,236.1 399.6,234.5 402.5,232.9 405.4,231.2 408.3,229.6 411.2,227.9 414.1,226.1 417.0,224.4 419.9,222.6 422.7,220.8 425.6,219.0 428.5,217.1 431.4,215.2 434.3,213.2 437.2,211.3 440.1,209.2 443.0,207.2 445.9,205.1 448.8,202.9 451.7,200.8 454.6,198.6 457.4,196.3 460.3,194.0 463.2,191.7 466.1,189.4 469.0,187.0 471.9,184.5 474.8,182.0 477.7,179.4 480.6,176.8 483.5,174.1 486.4,171.2 489.2,168.4 492.1,165.5 494.9,162.6 497.8,159.6 500.7,156.4 503.5,153.1 506.4,149.7 509.2,146.1 512.1,142.3 514.9,138.3 517.0,135.0 519.0,131.3 521.1,127.6 523.8,123.3 526.4,118.9 528.8,114.6 531.3,110.1 533.5,105.8 535.7,101.3 537.7,97.0 539.7,92.5 541.8,87.8 543.9,82.4 544.8,79.2 545.7,75.6 546.5,72.7 547.3,69.4 547.8,66.5 548.4,63.1 548.8,60.6 549.2,56.8 549.3,54.7 549.5,50.5 549.5,48.3 549.5,45.3" fill="none" stroke="#ff8000" stroke-width="1.1"/>
<g fill="#ff8000"><circle cx="23.6" cy="322.1" r="2.6"/><circle cx="81.5" cy="320.5" r="2.6"/><circle cx="139.3" cy="315.1" r="2.6"/><circle cx="197.2" cy="305.3" r="2.6"/><circle cx="255.0" cy="292.2" r="2.6"/><circle cx="312.8" cy="273.5" r="2.6"/><circle cx="370.7" cy="249.7" r="2.6"/><circle cx="399.6" cy="234.5" r="2.6"/><circle cx="428.5" cy="217.1" r="2.6"/><circle cx="457.4" cy="196.3" r="2.6"/><circle cx="486.4" cy="171.2" r="2.6"/><circle cx="514.9" cy="138.3" r="2.6"/><circle cx="543.9" cy="82.4" r="2.6"/><circle cx="549.5" cy="45.3" r="2.6"/></g>
<polyline points="23.6,236.1 26.5,236.1 29.4,236.1 32.3,236.1 35.2,236.0 38.1,236.0 41.0,236.0 43.9,235.9 46.8,235.9 49.7,235.8 52.6,235.8 55.5,235.7 58.4,235.6 61.2,235.6 64.1,235.5 67.0,235.4 69.9,235.3 72.8,235.3 75.7,235.2 78.6,235.1 81.5,235.0 84.4,234.9 87.3,234.8 90.2,234.7 93.1,234.5 96.0,234.4 98.8,234.2 101.7,234.0 104.6,233.8 107.5,233.6 110.4,233.4 113.3,233.2 116.2,233.0 119.1,232.7 122.0,232.5 124.9,232.3 127.8,232.0 130.7,231.8 133.5,231.5 136.4,231.3 139.3,231.0 142.2,230.7 145.1,230.5 148.0,230.2 150.9,229.9 153.8,229.6 156.7,229.3 159.6,228.9 162.5,228.6 165.4,228.3 168.2,227.9 171.1,227.6 174.0,227.2 176.9,226.8 179.8,226.5 182.7,226.1 185.6,225.7 188.5,225.3 191.4,224.9 194.3,224.5 197.2,224.1 200.1,223.7 203.0,223.3 205.8,222.9 208.7,222.4 211.6,222.0 214.5,221.6 217.4,221.1 220.3,220.7 223.2,220.2 226.1,219.7 229.0,219.2 231.9,218.7 234.8,218.2 237.7,217.7 240.6,217.2 243.4,216.7 246.3,216.2 249.2,215.6 252.1,215.1 255.0,214.5 257.9,213.9 260.8,213.3 263.7,212.7 266.6,212.1 269.5,211.5 272.4,210.8 275.3,210.2 278.1,209.5 281.0,208.8 283.9,208.1 286.8,207.4 289.7,206.7 292.6,206.0 295.5,205.2 298.4,204.5 301.3,203.7 304.2,203.0 307.1,202.2 310.0,201.4 312.8,200.6 315.7,199.8 318.6,199.0 321.5,198.1 324.4,197.3 327.3,196.4 330.2,195.5 333.1,194.7 336.0,193.8 338.9,192.8 341.8,191.9 344.7,191.0 347.6,190.0 350.4,189.0 353.3,188.0 356.2,187.0 359.1,186.0 362.0,185.0 364.9,184.0 367.8,183.0 370.7,181.9 373.6,180.8 376.5,179.7 379.4,178.6 382.3,177.5 385.1,176.3 388.0,175.1 390.9,173.9 393.8,172.7 396.7,171.4 399.6,170.1 402.5,168.8 405.4,167.4 408.3,166.1 411.2,164.7 414.1,163.3 417.0,161.8 419.9,160.3 422.7,158.8 425.6,157.2 428.5,155.6 431.4,154.0 434.3,152.3 437.2,150.5 440.1,148.8 443.0,146.9 445.9,145.1 448.8,143.1 451.7,141.1 454.6,139.0 457.4,136.9 460.3,134.7 463.2,132.6 466.1,130.5 469.0,128.3 471.9,125.9 474.8,123.4 477.7,120.7 480.6,117.7 483.5,114.3 486.4,110.6 489.1,106.4 491.8,101.3 494.5,95.4 497.2,88.7 499.9,81.5 502.6,73.8 505.3,65.7 508.0,57.3" fill="none" stroke="#ff0000" stroke-width="1.1"/>
<g fill="#ff0000"><circle cx="23.6" cy="236.1" r="2.6"/><circle cx="81.5" cy="235.0" r="2.6"/><circle cx="139.3" cy="231.0" r="2.6"/><circle cx="197.2" cy="224.1" r="2.6"/><circle cx="255.0" cy="214.5" r="2.6"/><circle cx="312.8" cy="200.6" r="2.6"/><circle cx="370.7" cy="181.9" r="2.6"/><circle cx="399.6" cy="170.1" r="2.6"/><circle cx="428.5" cy="155.6" r="2.6"/><circle cx="457.4" cy="136.9" r="2.6"/><circle cx="486.4" cy="110.6" r="2.6"/><circle cx="508.0" cy="57.3" r="2.6"/></g>
</g>
<path d="M12.8 377.1H576.5M23.6 377.5V27.95" stroke="#626262" stroke-width="1" fill="none"/>
<path d="M23.6 377.1v-7M46.8 377.1v-4.3M69.9 377.1v-4.3M93.1 377.1v-4.3M116.2 377.1v-4.3M139.3 377.1v-7M162.5 377.1v-4.3M185.6 377.1v-4.3M208.7 377.1v-4.3M231.9 377.1v-4.3M255.0 377.1v-7M278.1 377.1v-4.3M301.3 377.1v-4.3M324.4 377.1v-4.3M347.6 377.1v-4.3M370.7 377.1v-7M393.8 377.1v-4.3M417.0 377.1v-4.3M440.1 377.1v-4.3M463.2 377.1v-4.3M486.4 377.1v-7M509.5 377.1v-4.3M532.6 377.1v-4.3M555.8 377.1v-4.3M23.6 367.28h4.3M23.6 357.32h4.3M23.6 347.35h4.3M23.6 337.39h4.3M23.6 327.42h6.9M23.6 317.45h4.3M23.6 307.49h4.3M23.6 297.52h4.3M23.6 287.56h4.3M23.6 277.59h6.9M23.6 267.62h4.3M23.6 257.66h4.3M23.6 247.69h4.3M23.6 237.73h4.3M23.6 227.76h6.9M23.6 217.79h4.3M23.6 207.83h4.3M23.6 197.86h4.3M23.6 187.90h4.3M23.6 177.93h6.9M23.6 167.96h4.3M23.6 158.00h4.3M23.6 148.03h4.3M23.6 138.07h4.3M23.6 128.10h6.9M23.6 118.13h4.3M23.6 108.17h4.3M23.6 98.20h4.3M23.6 88.24h4.3M23.6 78.27h6.9M23.6 68.30h4.3M23.6 58.34h4.3M23.6 48.37h4.3M23.6 38.41h4.3M23.6 28.44h6.9" stroke="#626262" stroke-width="1" fill="none"/>
<g style="filter:grayscale(1)"><text x="18.6" y="332.0" text-anchor="end">0.1</text><text x="18.6" y="282.2" text-anchor="end">0.2</text><text x="18.6" y="232.4" text-anchor="end">0.3</text><text x="18.6" y="182.5" text-anchor="end">0.4</text><text x="18.6" y="132.7" text-anchor="end">0.5</text><text x="18.6" y="82.9" text-anchor="end">0.6</text><text x="18.6" y="33.0" text-anchor="end">0.7</text><text x="23.6" y="396.3" text-anchor="middle">0.0</text><text x="139.3" y="396.3" text-anchor="middle">0.1</text><text x="255.0" y="396.3" text-anchor="middle">0.2</text><text x="370.7" y="396.3" text-anchor="middle">0.3</text><text x="486.4" y="396.3" text-anchor="middle">0.4</text><text x="0" y="0" transform="translate(590,382) skewX(-7)" style="font-size:14.8px">λ</text><text x="12.5" y="14.6" font-style="italic" style="font-size:14.6px">W</text><text x="24.6" y="17" style="font-size:10.3px">00</text></g>
</svg>
</body></html>
